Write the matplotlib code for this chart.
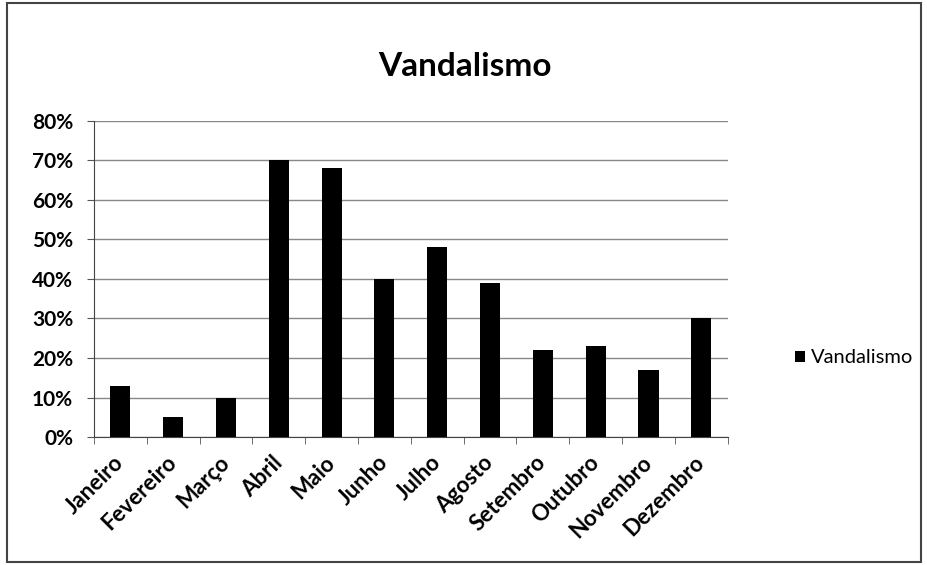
import matplotlib.pyplot as plt
import numpy as np
from matplotlib.patches import Rectangle

meses = ['Janeiro', 'Fevereiro', 'Março', 'Abril', 'Maio', 'Junho',
         'Julho', 'Agosto', 'Setembro', 'Outubro', 'Novembro', 'Dezembro']
vandalismo = [13, 5, 10, 70, 68, 40, 48, 39, 22, 23, 17, 30]
yticks = [0, 10, 20, 30, 40, 50, 60, 70, 80]

plt.rcParams['font.family'] = ['Lato', 'DejaVu Sans']

fig = plt.figure(figsize=(9.27, 5.65), dpi=100)
ax = fig.add_axes([0.1014, 0.2265, 0.6836, 0.5595])

x = np.arange(len(meses))
ax.bar(x, vandalismo, width=0.38, color='black', label='Vandalismo', zorder=3)

ax.set_xlim(-0.5, len(meses) - 0.5)
ax.set_ylim(0, 80)
ax.set_yticks(yticks)
ax.set_yticklabels([f'{v}%' for v in yticks], fontsize=15, fontweight='bold')
ax.yaxis.grid(True, color='#888888', linewidth=1, zorder=0)

ax.set_xticks(x)
ax.set_xticklabels(meses, rotation=45, ha='right', va='center', rotation_mode='anchor',
                   fontsize=16, fontweight='bold')
ax.tick_params(axis='x', length=0, pad=16)
ax.set_xticks(np.arange(-0.5, len(meses)), minor=True)
ax.tick_params(axis='x', which='minor', length=5, color='#555555')
ax.tick_params(axis='y', length=5, color='#555555', pad=10)

for s in ['top', 'right']:
    ax.spines[s].set_visible(False)
ax.spines['left'].set_color('#444444')
ax.spines['bottom'].set_color('#444444')

fig.text(0.502, 0.883, 'Vandalismo', ha='center', va='center',
         fontsize=24, fontweight='bold')

ax.legend(loc='center left', bbox_to_anchor=(1.077, 0.25), frameon=False,
          fontsize=14.5, handlelength=0.5, handleheight=0.5, handletextpad=0.3)

fig.patches.append(Rectangle((0.008, 0.005), 0.985, 0.99, transform=fig.transFigure,
                             fill=False, edgecolor='#444444', linewidth=1.5))

plt.savefig('out.png', dpi=100)
